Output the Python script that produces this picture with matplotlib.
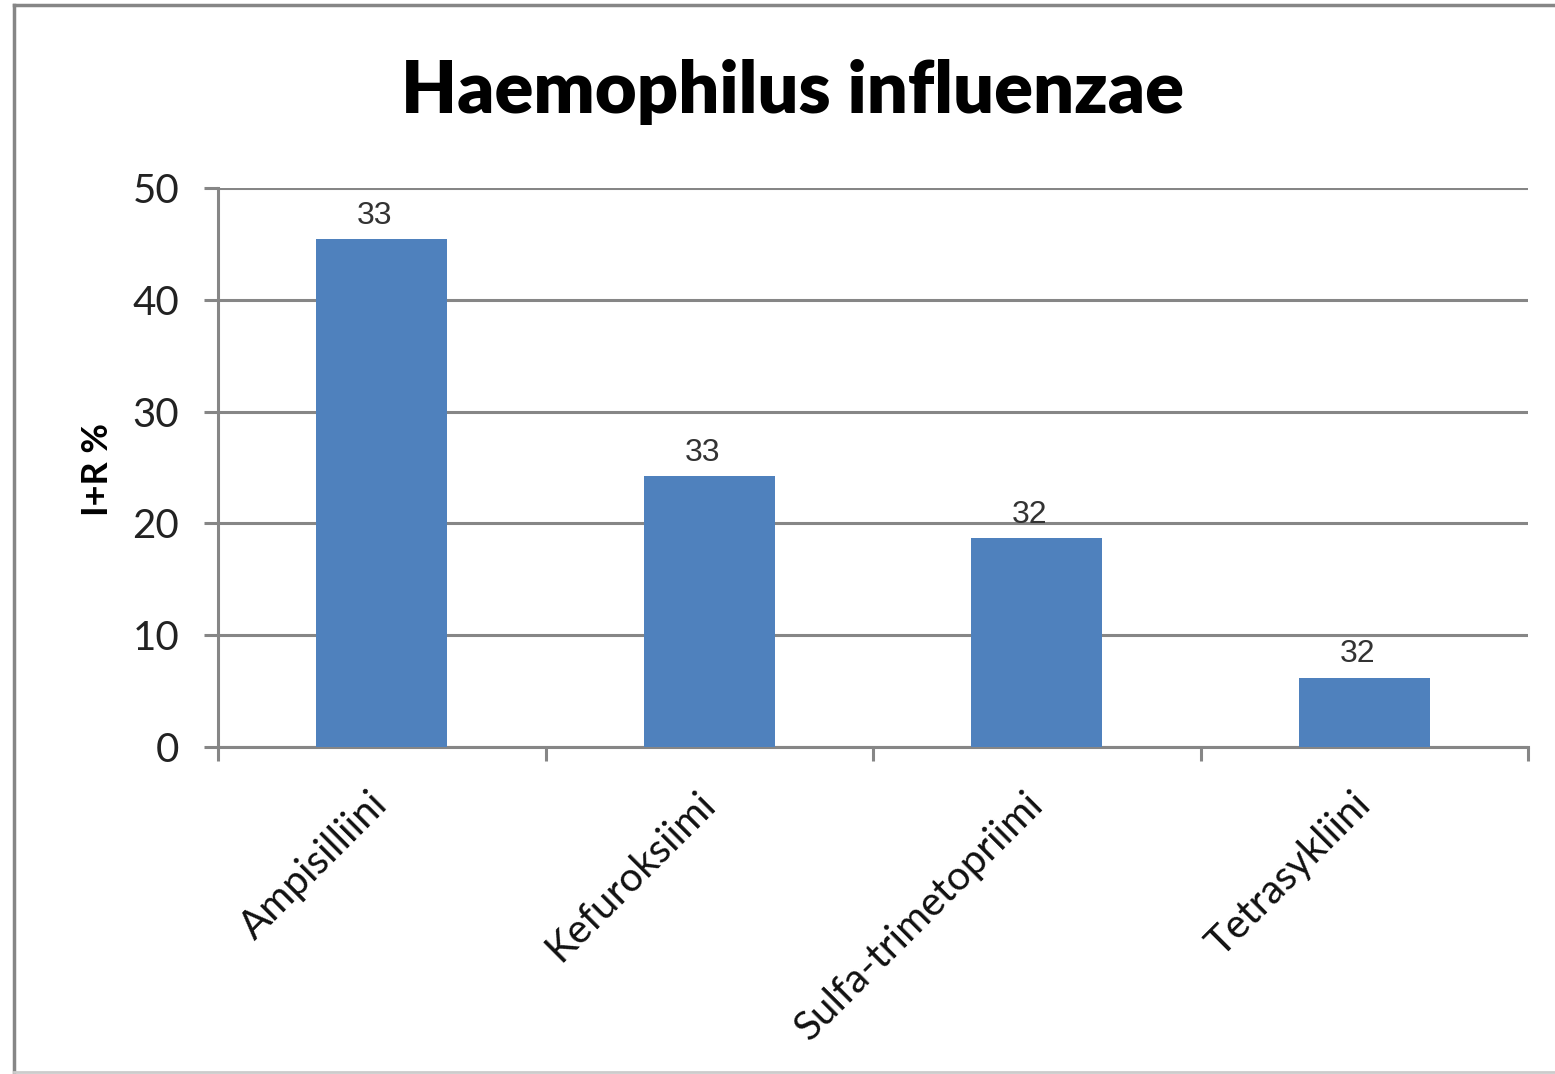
import matplotlib.pyplot as plt
import matplotlib.lines as mlines
import numpy as np

# Data
categories = ['Ampisilliini', 'Kefuroksiimi', 'Sulfa-trimetopriimi', 'Tetrasykliini']
values = [45.4, 24.2, 18.7, 6.2]
n_labels = ['33', '33', '32', '32']
y_ticks = [0, 10, 20, 30, 40, 50]

grey = '#868686'
bar_color = '#4F81BD'

fig = plt.figure(figsize=(15.55, 10.74), dpi=100)
ax = fig.add_axes([218 / 1555, 1 - 747 / 1074, (1528 - 218) / 1555, (747 - 188) / 1074])

x = np.arange(len(categories))
ax.bar(x, values, width=0.4, color=bar_color, zorder=3)

# data labels (n)
for xi, v, lab in zip(x, values, n_labels):
    ax.annotate(lab, (xi, v), xytext=(-5, 6), textcoords='offset points',
                ha='center', va='bottom', fontsize=23,
                family='Liberation Sans', color='#333333', zorder=4)

ax.set_xlim(-0.5, len(categories) - 0.5)
ax.set_ylim(0, 50)
ax.set_yticks(y_ticks)
ax.set_yticklabels([str(t) for t in y_ticks], family='Lato', fontsize=29, color='#222222')
ax.yaxis.grid(True, color=grey, linewidth=2.2, zorder=0)

# category boundary ticks on x-axis
ax.set_xticks(np.arange(-0.5, len(categories), 1.0))
ax.set_xticklabels([])
ax.set_xticks(x, minor=True)
ax.set_xticklabels(categories, minor=True, rotation=45, ha='right', va='center',
                   rotation_mode='anchor', family='Lato', fontsize=29, color='#111111')
ax.tick_params(axis='x', which='minor', length=0, pad=37)
ax.tick_params(axis='x', which='major', length=10, width=2.2, color=grey)
ax.tick_params(axis='y', length=10, width=2.2, color=grey, pad=18)

for s in ['top', 'right']:
    ax.spines[s].set_visible(False)
for s in ['left', 'bottom']:
    ax.spines[s].set_color(grey)
    ax.spines[s].set_linewidth(2.2)

fig.text(97 / 1555, 1 - 470 / 1074, 'I+R %', rotation=90, ha='center', va='center',
         family='Lato', fontweight='bold', fontsize=26)

fig.text(792 / 1555, 1 - 92 / 1074, 'Haemophilus influenzae', ha='center', va='center',
         family='Lato', fontweight='heavy', fontsize=52)

# outer chart border
fig.add_artist(mlines.Line2D([14 / 1555, 14 / 1555], [1 - 5 / 1074, 1 - 1072 / 1074],
                             color=grey, linewidth=2.5, transform=fig.transFigure))
fig.add_artist(mlines.Line2D([14 / 1555, 1.0], [1 - 5 / 1074, 1 - 5 / 1074],
                             color=grey, linewidth=2.5, transform=fig.transFigure))
fig.add_artist(mlines.Line2D([14 / 1555, 1.0], [1 - 1072 / 1074, 1 - 1072 / 1074],
                             color='#cccccc', linewidth=2, transform=fig.transFigure))

fig.savefig('out.png', dpi=100)
